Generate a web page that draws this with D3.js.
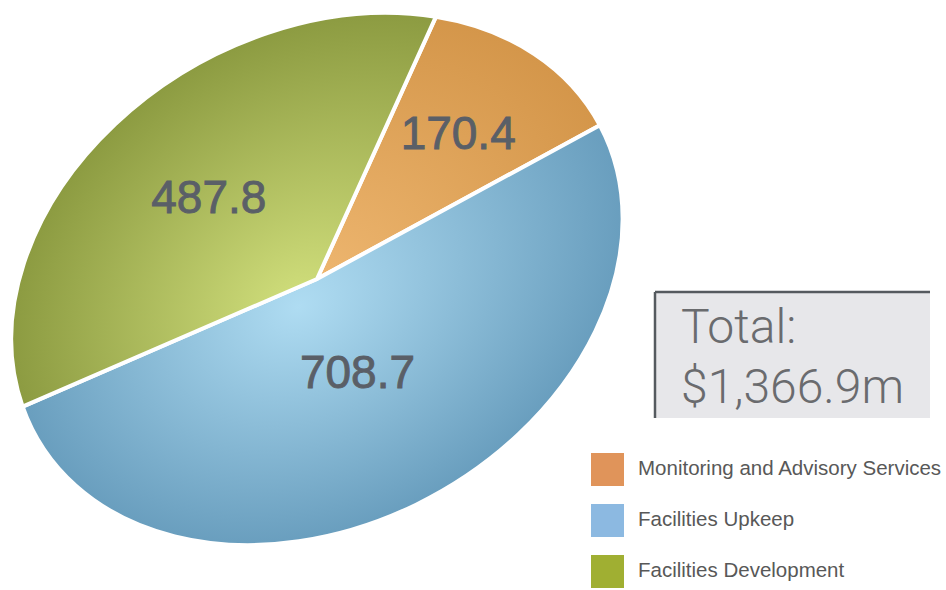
<!DOCTYPE html>
<html>
<head>
<meta charset="utf-8">
<script src="https://cdn.jsdelivr.net/npm/d3@7/dist/d3.min.js"></script>
<style>
  html, body { margin: 0; padding: 0; background: #ffffff; }
  svg { display: block; }
</style>
</head>
<body>
<svg id="chart" width="946" height="590"></svg>
<script>
// Budget split by programme area ($m)
const categories = ["Monitoring and Advisory Services", "Facilities Upkeep", "Facilities Development"];
const values = [170.4, 708.7, 487.8];
const valueLabels = ["170.4", "708.7", "487.8"];
const totalLabel = ["Total:", "$1,366.9m"];

// Slice shading: light near the hub, deeper toward the rim
const innerColors = ["#f0b973", "#afdcf2", "#d2e07d"];
const outerColors = ["#d4964a", "#699ebe", "#8c9b41"];
const swatchColors = ["#e0945a", "#8cb9e1", "#a0af32"];

const svg = d3.select("#chart");
const defs = svg.append("defs");

// Tilted pie: a circular pie squashed and rotated into an ellipse
const cx = 317, cy = 279;
const a = 322, b = 246;          // semi-axes
const tilt = 29.2;               // degrees, counter-clockwise
const squash = b / a;
const startDeg = 46;

const pie = d3.pie().sort(null).value(d => d)
  .startAngle(startDeg * Math.PI / 180)
  .endAngle(startDeg * Math.PI / 180 + 2 * Math.PI);
const arcs = pie(values);

const arc = d3.arc().innerRadius(0).outerRadius(a);

// Value labels sit on each sector's area centroid: 4R·sin(φ/2) / (3φ) from the hub
const sectorCentroidDist = d => {
  const phi = d.endAngle - d.startAngle;
  return 4 * a * Math.sin(phi / 2) / (3 * phi);
};
const labelArc = d3.arc().innerRadius(0).outerRadius(d => 2 * sectorCentroidDist(d));

values.forEach((v, i) => {
  const g = defs.append("radialGradient")
    .attr("id", "grad" + i)
    .attr("gradientUnits", "userSpaceOnUse")
    .attr("cx", 0).attr("cy", 0).attr("r", a)
    .attr("fx", -30).attr("fy", 20);
  g.append("stop").attr("offset", "0%").attr("stop-color", innerColors[i]);
  g.append("stop").attr("offset", "100%").attr("stop-color", outerColors[i]);
});

const pieG = svg.append("g")
  .attr("transform", `translate(${cx},${cy}) rotate(${-tilt}) scale(1,${squash})`);

pieG.selectAll("path.slice")
  .data(arcs)
  .join("path")
  .attr("class", "slice")
  .attr("d", arc)
  .attr("fill", (d, i) => `url(#grad${i})`)
  .attr("stroke", "#ffffff")
  .attr("stroke-width", 4)
  .attr("stroke-linejoin", "round")
  .style("vector-effect", "non-scaling-stroke");

// Map a point from pie space through the same squash + tilt
const t = tilt * Math.PI / 180;
function project([x, y]) {
  const ys = y * squash;
  return [cx + x * Math.cos(t) + ys * Math.sin(t), cy - x * Math.sin(t) + ys * Math.cos(t)];
}

svg.selectAll("text.value")
  .data(arcs)
  .join("text")
  .attr("class", "value")
  .attr("x", d => project(labelArc.centroid(d))[0])
  .attr("y", d => project(labelArc.centroid(d))[1])
  .attr("dy", "0.36em")
  .attr("text-anchor", "middle")
  .attr("font-family", "'Liberation Sans', Arial, sans-serif")
  .attr("font-size", 46)
  .attr("fill", "#5a5f67")
  .attr("stroke", "#5a5f67")
  .attr("stroke-width", 0.9)
  .text((d, i) => valueLabels[i]);

// Total panel
const box = svg.append("g").attr("transform", "translate(655,292)");
box.append("rect").attr("x", 0).attr("y", 0).attr("width", 275).attr("height", 126)
  .attr("fill", "#e7e7ea");
box.append("line").attr("x1", 0).attr("y1", 0).attr("x2", 275).attr("y2", 0)
  .attr("stroke", "#555a5f").attr("stroke-width", 2.5);
box.append("line").attr("x1", 0).attr("y1", 0).attr("x2", 0).attr("y2", 126)
  .attr("stroke", "#555a5f").attr("stroke-width", 2.5);
box.selectAll("text")
  .data(totalLabel)
  .join("text")
  .attr("x", 26)
  .attr("y", (d, i) => 51 + i * 60)
  .attr("font-family", "Roboto, 'Liberation Sans', sans-serif")
  .attr("font-weight", 300)
  .attr("font-size", 48)
  .attr("fill", "#6a6b6e")
  .text(d => d);

// Legend
const legend = svg.append("g").attr("transform", "translate(591,453)");
const item = legend.selectAll("g.item")
  .data(categories)
  .join("g")
  .attr("class", "item")
  .attr("transform", (d, i) => `translate(0,${i * 51})`);
item.append("rect")
  .attr("width", 33).attr("height", 33)
  .attr("fill", (d, i) => swatchColors[i]);
item.append("text")
  .attr("x", 47).attr("y", 22)
  .attr("font-family", "'Liberation Sans', Arial, sans-serif")
  .attr("font-size", 20.5)
  .attr("fill", "#585858")
  .text(d => d);
</script>
</body>
</html>
